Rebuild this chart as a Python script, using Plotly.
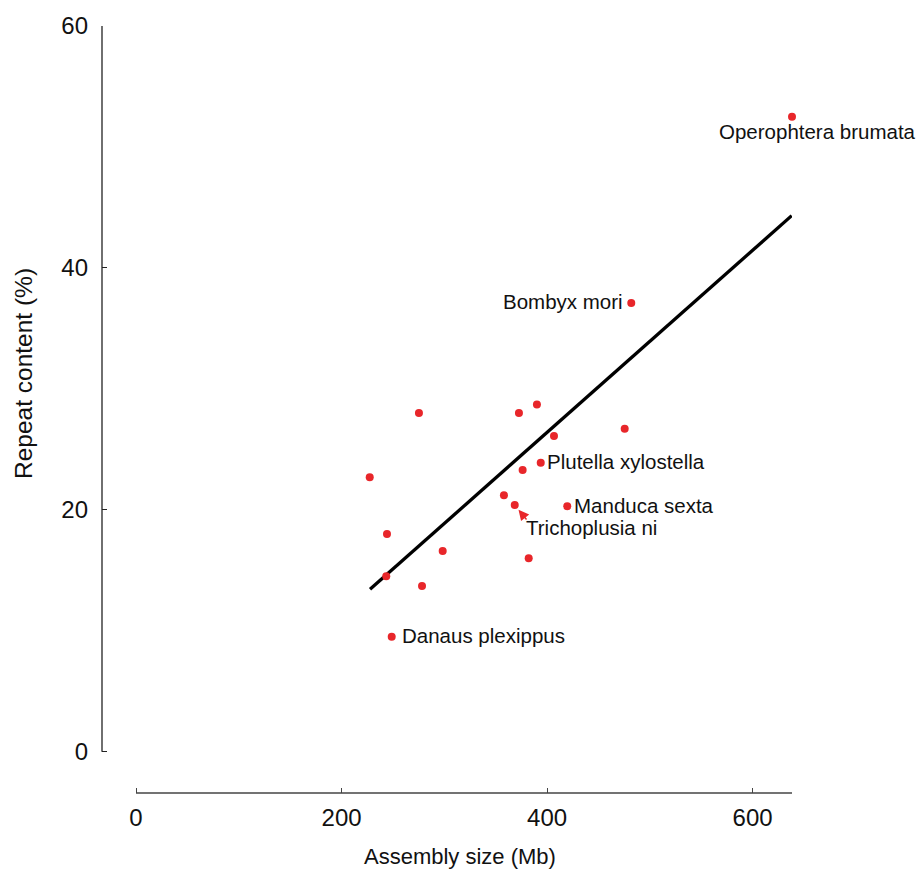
import plotly.graph_objects as go

# Data
species = ["Operophtera brumata", "Bombyx mori", "", "", "", "", "", "", "",
           "Plutella xylostella", "", "Trichoplusia ni", "Manduca sexta", "", "",
           "", "", "", "Danaus plexippus"]
assembly_mb = [638.3, 481.9, 475.5, 406.7, 390.1, 372.6, 275.3, 227.4, 376.2,
               393.8, 358.0, 368.5, 419.6, 244.2, 298.4, 382.1, 243.5, 278.3, 248.8]
repeat_pct = [52.5, 37.1, 26.7, 26.1, 28.7, 28.0, 28.0, 22.7, 23.3,
              23.9, 21.2, 20.4, 20.3, 18.0, 16.6, 16.0, 14.5, 13.7, 9.5]
fit_x = [227.7, 638.0]
fit_y = [13.43, 44.32]
x_tick_vals = [0, 200, 400, 600]
y_tick_vals = [0, 20, 40, 60]

FONT = "Liberation Sans, Arial, Helvetica, sans-serif"
RED = "#e8262a"
LABEL_SIZE = 20.5

fig = go.Figure()
fig.add_trace(go.Scatter(x=fit_x, y=fit_y, mode="lines",
                         line=dict(color="black", width=3.3),
                         showlegend=False, hoverinfo="skip", cliponaxis=False))
fig.add_trace(go.Scatter(x=assembly_mb, y=repeat_pct, mode="markers",
                         marker=dict(color=RED, size=8),
                         text=species, showlegend=False, cliponaxis=False))

xmax = max(assembly_mb)
xmin = -33.1
ymin = -3.41
ymax = 60

# Labels
label_cfg = {
    "Operophtera brumata": dict(xanchor="left", yanchor="middle", xshift=-75, yshift=-15),
    "Bombyx mori": dict(xanchor="right", yanchor="middle", xshift=-6, yshift=2),
    "Plutella xylostella": dict(xanchor="left", yanchor="middle", xshift=4, yshift=1),
    "Manduca sexta": dict(xanchor="left", yanchor="middle", xshift=5, yshift=1),
    "Danaus plexippus": dict(xanchor="left", yanchor="middle", xshift=8, yshift=1),
    "Trichoplusia ni": dict(xanchor="left", yanchor="middle", xshift=9, yshift=-22),
}
for name, xv, yv in zip(species, assembly_mb, repeat_pct):
    if not name:
        continue
    c = label_cfg[name]
    fig.add_annotation(x=xv, y=yv, text=name, showarrow=False,
                       font=dict(family=FONT, size=LABEL_SIZE, color="#111"), **c)
    if name == "Trichoplusia ni":
        fig.add_annotation(x=xv, y=yv, text="", showarrow=True,
                           ax=13, ay=16,
                           arrowcolor=RED, arrowhead=2, arrowsize=1.5,
                           arrowwidth=1.4, standoff=6)

# Axis lines spanning only the data range
fig.add_shape(type="line", xref="x", yref="paper", x0=0, x1=xmax, y0=0, y1=0,
              line=dict(color="#444", width=1.3))
fig.add_shape(type="line", xref="paper", yref="y", x0=0, x1=0, y0=0, y1=60,
              line=dict(color="#222", width=1.3))

# Axis titles
fig.add_annotation(xref="paper", yref="paper", x=0.5188, y=-0.0834,
                   text="Assembly size (Mb)", showarrow=False,
                   xanchor="center", yanchor="middle",
                   font=dict(family=FONT, size=22, color="#111"))
fig.add_annotation(xref="paper", yref="paper", x=-0.113, y=0.5463,
                   text="Repeat content (%)", showarrow=False, textangle=-90,
                   xanchor="center", yanchor="middle",
                   font=dict(family=FONT, size=24.5, color="#111"))

fig.update_layout(
    width=919, height=871,
    margin=dict(l=102, r=127, t=26, b=78),
    plot_bgcolor="white", paper_bgcolor="white",
    font=dict(family=FONT, color="#111"),
)
fig.update_xaxes(range=[xmin, xmax], showgrid=False, zeroline=False, showline=False,
                 tickvals=x_tick_vals + [xmax], ticktext=[str(v) for v in x_tick_vals] + [""],
                 ticks="inside", ticklen=5, tickwidth=1.3, tickcolor="#444",
                 tickfont=dict(family=FONT, size=24, color="#111"),
                 ticklabelstandoff=8)
fig.update_yaxes(range=[ymin, ymax], showgrid=False, zeroline=False, showline=False,
                 tickvals=y_tick_vals, ticktext=[str(v) for v in y_tick_vals],
                 ticks="inside", ticklen=5, tickwidth=1.3, tickcolor="#222",
                 tickfont=dict(family=FONT, size=24, color="#111"),
                 ticklabelstandoff=13)

fig.write_html("out.html")
